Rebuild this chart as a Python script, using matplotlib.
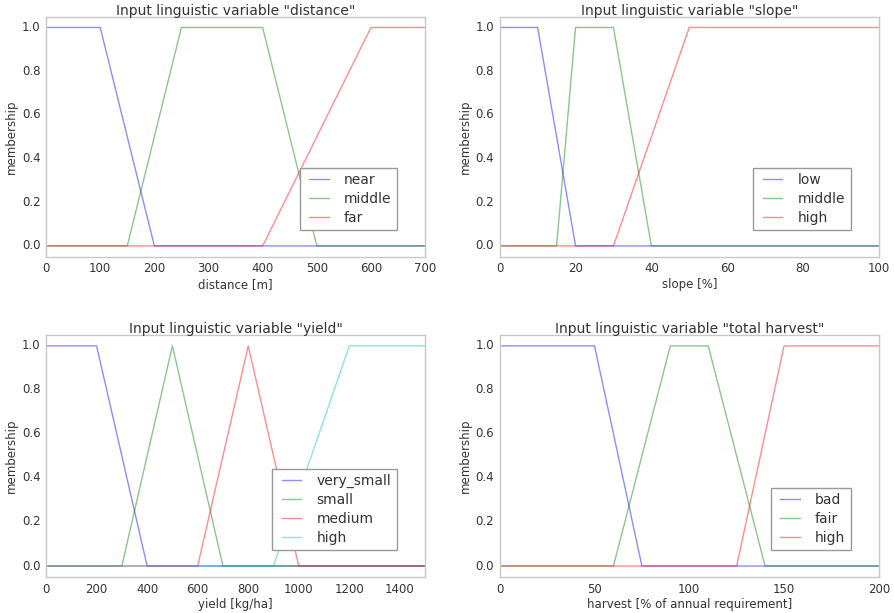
import matplotlib
matplotlib.use('Agg')
import matplotlib.pyplot as plt

# membership functions as breakpoints (x, y)
DIST_NEAR_X = [0, 100, 200, 700]
DIST_NEAR_Y = [1, 1, 0, 0]
DIST_MID_X = [0, 150, 250, 400, 500, 700]
DIST_MID_Y = [0, 0, 1, 1, 0, 0]
DIST_FAR_X = [0, 400, 600, 700]
DIST_FAR_Y = [0, 0, 1, 1]

SLOPE_LOW_X = [0, 10, 20, 100]
SLOPE_LOW_Y = [1, 1, 0, 0]
SLOPE_MID_X = [0, 15, 20, 30, 40, 100]
SLOPE_MID_Y = [0, 0, 1, 1, 0, 0]
SLOPE_HIGH_X = [0, 30, 50, 100]
SLOPE_HIGH_Y = [0, 0, 1, 1]

YIELD_VS_X = [0, 200, 400, 1500]
YIELD_VS_Y = [1, 1, 0, 0]
YIELD_S_X = [0, 300, 500, 700, 1500]
YIELD_S_Y = [0, 0, 1, 0, 0]
YIELD_M_X = [0, 600, 800, 1000, 1500]
YIELD_M_Y = [0, 0, 1, 0, 0]
YIELD_H_X = [0, 900, 1200, 1500]
YIELD_H_Y = [0, 0, 1, 1]

HARV_BAD_X = [0, 50, 75, 200]
HARV_BAD_Y = [1, 1, 0, 0]
HARV_FAIR_X = [0, 60, 90, 110, 140, 200]
HARV_FAIR_Y = [0, 0, 1, 1, 0, 0]
HARV_HIGH_X = [0, 125, 150, 200]
HARV_HIGH_Y = [0, 0, 1, 1]

COLORS = ['b', 'g', 'r', 'c']
TXT = '#333333'

plt.style.use('classic')
plt.rcParams['font.family'] = 'DejaVu Sans'
plt.rcParams['text.color'] = TXT
plt.rcParams['axes.labelcolor'] = TXT
plt.rcParams['xtick.color'] = TXT
plt.rcParams['ytick.color'] = TXT

fig = plt.figure(figsize=(8.94, 6.13), dpi=100, facecolor='white')

panels = [
    ([0.0515, 0.581, 0.424, 0.392], 'distance', 'distance [m]', (0, 700), range(0, 701, 100),
     [(DIST_NEAR_X, DIST_NEAR_Y, 'near'), (DIST_MID_X, DIST_MID_Y, 'middle'), (DIST_FAR_X, DIST_FAR_Y, 'far')]),
    ([0.559, 0.581, 0.424, 0.392], 'slope', 'slope [%]', (0, 100), range(0, 101, 20),
     [(SLOPE_LOW_X, SLOPE_LOW_Y, 'low'), (SLOPE_MID_X, SLOPE_MID_Y, 'middle'), (SLOPE_HIGH_X, SLOPE_HIGH_Y, 'high')]),
    ([0.0515, 0.0587, 0.424, 0.395], 'yield', 'yield [kg/ha]', (0, 1500), range(0, 1401, 200),
     [(YIELD_VS_X, YIELD_VS_Y, 'very_small'), (YIELD_S_X, YIELD_S_Y, 'small'),
      (YIELD_M_X, YIELD_M_Y, 'medium'), (YIELD_H_X, YIELD_H_Y, 'high')]),
    ([0.559, 0.0587, 0.424, 0.395], 'total harvest', 'harvest [% of annual requirement]', (0, 200), range(0, 201, 50),
     [(HARV_BAD_X, HARV_BAD_Y, 'bad'), (HARV_FAIR_X, HARV_FAIR_Y, 'fair'), (HARV_HIGH_X, HARV_HIGH_Y, 'high')]),
]

for rect, name, xlabel, xlim, xticks, series in panels:
    ax = fig.add_axes(rect)
    for (xs, ys, lab), c in zip(series, COLORS):
        ax.plot(xs, ys, color=c, alpha=0.45, lw=1.0, label=lab)
    ax.set_xlim(*xlim)
    ax.set_ylim(-0.05, 1.05)
    ax.set_xticks(list(xticks))
    ax.set_yticks([0.0, 0.2, 0.4, 0.6, 0.8, 1.0])
    ax.set_yticklabels(['0.0', '0.2', '0.4', '0.6', '0.8', '1.0'])
    ax.tick_params(labelsize=8.5, length=0, pad=4)
    for sp in ax.spines.values():
        sp.set_color('#c8c8c8')
    ax.set_title('Input linguistic variable "%s"' % name, fontsize=10, pad=1)
    ax.set_xlabel(xlabel, fontsize=8.5, labelpad=2)
    ax.set_ylabel('membership', fontsize=8.5, labelpad=3)
    leg = ax.legend(loc='lower right', bbox_to_anchor=(0.926, 0.11), borderaxespad=0,
                    fontsize=10, fancybox=False, handlelength=2.0, labelspacing=0.35)
    leg.get_frame().set_edgecolor('#999999')

plt.savefig('out.png', dpi=100, facecolor='white')
